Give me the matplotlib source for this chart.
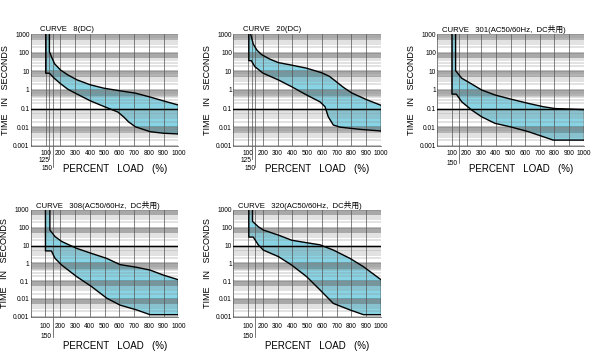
import matplotlib
matplotlib.use('Agg')
import matplotlib.pyplot as plt
import matplotlib.transforms as mtransforms

plt.rcParams['font.family'] = ['Liberation Sans Narrow', 'Liberation Sans', 'Noto Sans CJK JP']

titles = ['CURVE   8(DC)', 'CURVE   20(DC)', 'CURVE   301(AC50/60Hz,  DC共用)',
          'CURVE   308(AC50/60Hz,  DC共用)', 'CURVE   320(AC50/60Hz,  DC共用)']

x_ticks = [100, 200, 300, 400, 500, 600, 700, 800, 900, 1000]
y_ticks = [1000, 100, 10, 1, 0.1, 0.01, 0.001]
y_tick_labels = ['1000', '100', '10', '1', '0.1', '0.01', '0.001']

# CURVE 8 (DC)
c8_up_x = [125, 125, 144, 160, 200, 250, 313, 403, 495, 606, 708, 808, 898, 1000]
c8_up_y = [1000, 115, 50, 26, 12, 6.5, 3.5, 1.9, 1.25, 0.9, 0.68, 0.42, 0.26, 0.155]
c8_lo_x = [100, 100, 125, 155, 200, 250, 313, 403, 505, 590, 630, 663, 708, 808, 898, 1000]
c8_lo_y = [1000, 8, 8, 4.5, 2.2, 1.1, 0.6, 0.26, 0.12, 0.065, 0.035, 0.019, 0.0105, 0.0057, 0.0047, 0.0043]

# CURVE 20 (DC)
c20_up_x = [118, 135, 160, 192, 250, 305, 406, 496, 598, 650, 688, 745, 801, 903, 1000]
c20_up_y = [1000, 300, 140, 80, 45, 30, 21, 15, 8.5, 5.5, 3.2, 1.4, 0.7, 0.3, 0.15]
c20_lo_x = [105, 105, 122, 146, 202, 305, 395, 496, 587, 621, 643, 677, 722, 857, 1000]
c20_lo_y = [1000, 38, 38, 18, 8, 3.5, 1.5, 0.54, 0.23, 0.126, 0.036, 0.013, 0.01, 0.0076, 0.0062]

# CURVE 301 (AC50/60Hz, DC)
c301_up_x = [125, 125, 167, 235, 303, 394, 497, 622, 724, 804, 1000]
c301_up_y = [1000, 11, 4.3, 2.1, 1.0, 0.54, 0.33, 0.19, 0.126, 0.1, 0.088]
c301_lo_x = [100, 100, 130, 167, 235, 303, 394, 497, 622, 792, 1000]
c301_lo_y = [1000, 0.6, 0.6, 0.23, 0.083, 0.036, 0.016, 0.0105, 0.0057, 0.002, 0.002]

# CURVE 308 (AC50/60Hz, DC)
c308_up_x = [130, 130, 165, 210, 311, 413, 515, 605, 718, 808, 898, 1000]
c308_up_y = [1000, 75, 32, 17, 7, 3.6, 1.9, 0.85, 0.6, 0.42, 0.22, 0.12]
c308_lo_x = [100, 100, 140, 165, 210, 311, 413, 515, 605, 718, 808, 1000]
c308_lo_y = [1000, 5, 5, 1.9, 0.8, 0.18, 0.049, 0.011, 0.0045, 0.0024, 0.0013, 0.0013]

# CURVE 320 (AC50/60Hz, DC)
c320_up_x = [130, 130, 169, 203, 305, 395, 496, 587, 677, 790, 881, 1000]
c320_up_y = [1000, 230, 115, 75, 39, 20, 14.5, 11, 5.6, 1.9, 0.65, 0.12]
c320_lo_x = [105, 105, 135, 169, 203, 305, 395, 496, 587, 677, 790, 881, 1000]
c320_lo_y = [1000, 30, 30, 11, 5.6, 2.4, 0.8, 0.18, 0.032, 0.0056, 0.0024, 0.0013, 0.0013]

panels = [
    (c8_up_x, c8_up_y, c8_lo_x, c8_lo_y),
    (c20_up_x, c20_up_y, c20_lo_x, c20_lo_y),
    (c301_up_x, c301_up_y, c301_lo_x, c301_lo_y),
    (c308_up_x, c308_up_y, c308_lo_x, c308_lo_y),
    (c320_up_x, c320_up_y, c320_lo_x, c320_lo_y),
]
black_decade = [0.1, 0.1, 0.1, 10, 10]
has_125 = [True, True, False, False, False]

W, H = 596, 351
# axes boxes in pixels: left, top, right, bottom
boxes = [(31, 34.3, 178.3, 145.7), (233.3, 34.3, 381, 145.7), (437.3, 34.3, 583.7, 145.7),
         (30.7, 210, 178.3, 316.7), (233.3, 210, 381, 316.7)]

fig = plt.figure(figsize=(W / 100, H / 100), dpi=100)
fill_color = '#88d4e4'
grid_color = '#8a8a8a'

for i, (ux, uy, lx, ly) in enumerate(panels):
    l, t, r, b = boxes[i]
    ax = fig.add_axes([l / W, 1 - b / H, (r - l) / W, (b - t) / H])
    ax.set_yscale('log')
    ax.set_xlim(0, 1000)
    ax.set_ylim(0.001, 1000)
    pw, ph = r - l, b - t

    # filled band between the curves
    px = list(ux) + list(lx[::-1])
    py = list(uy) + list(ly[::-1])
    ax.fill(px, py, color=fill_color, lw=0, zorder=2)

    # grey bands and grid
    for d in y_ticks:
        if d == black_decade[i]:
            ax.axhline(d, color='black', lw=1.0, zorder=4)
        else:
            ax.axhspan(d * 0.5, d * 1.15, color='black', alpha=0.24, lw=0, zorder=3)
            ax.axhline(d, color=grid_color, lw=0.5, zorder=3.5)
        if d < 1000:
            for k in range(2, 10):
                ax.axhline(d * k, color=grid_color, lw=0.35, zorder=3.5)
    vlines = [100, 150] + x_ticks[1:-1]
    if has_125[i]:
        vlines.append(125)
    for v in vlines:
        ax.axvline(v, color='#555555', lw=0.5, zorder=3.5)

    # curves
    ax.plot(ux, uy, color='black', lw=1.0, zorder=5)
    ax.plot(lx, ly, color='black', lw=1.0, zorder=5)
    ax.plot([ux[-1], lx[-1]], [uy[-1], ly[-1]], color='black', lw=1.0, zorder=5)

    for s in ax.spines.values():
        s.set_color('#666666')
        s.set_linewidth(0.6)
    ax.spines['right'].set_visible(False)
    ax.spines['top'].set_visible(False)

    ax.set_yticks(y_ticks)
    ax.set_yticklabels(y_tick_labels)
    ax.minorticks_off()
    ax.set_xticks(x_ticks)
    ax.set_xticklabels([str(v) for v in x_ticks])
    ax.tick_params(length=0, labelsize=4.8, pad=1)
    ax.tick_params(axis='x', pad=3 if i < 3 else 4.5)

    trans = mtransforms.blended_transform_factory(ax.transData, ax.transAxes)
    if has_125[i]:
        ax.plot([125, 125], [0, -13 / ph], transform=trans, color='#444444', lw=0.5, clip_on=False)
        ax.plot([150, 150], [0, -21 / ph], transform=trans, color='#444444', lw=0.5, clip_on=False)
        ax.text(123, -15 / ph, '125', transform=trans, fontsize=4.8, ha='right', va='center')
        ax.text(148, -22.6 / ph, '150', transform=trans, fontsize=4.8, ha='right', va='center')
    else:
        dy = 17.6 if i < 3 else 20
        ax.plot([150, 150], [0, -dy / ph], transform=trans, color='#444444', lw=0.5, clip_on=False)
        ax.text(140, -dy / ph, '150', transform=trans, fontsize=4.8, ha='right', va='center')

    ax.set_ylabel('TIME   IN   SECONDS', fontsize=6.5)
    ax.yaxis.set_label_coords(-21.5 / pw, 0.5)
    ax.set_xlabel('PERCENT   LOAD   (%)', fontsize=7)
    ax.xaxis.set_label_coords(0.57, (-18 if i < 3 else -24) / ph)
    tx = [9, 10, 5, 5, 5][i]
    ax.text(tx / pw, 1 + 5 / ph, titles[i], transform=ax.transAxes, fontsize=5.6,
            ha='left', va='center')

fig.savefig('out.png', dpi=100)
